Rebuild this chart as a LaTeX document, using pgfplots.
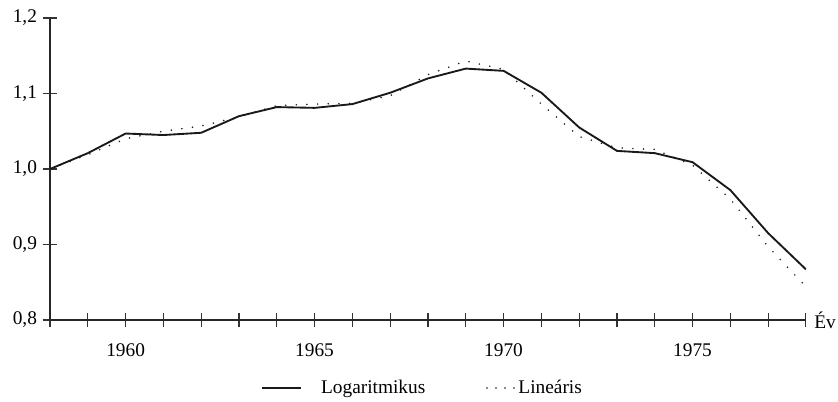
\documentclass[border=0pt]{standalone}
\usepackage{fontspec}
\setmainfont{Liberation Serif}
\usepackage{pgfplots}
\pgfplotsset{compat=1.18}
\pgfplotstableread{
year log lin
1958 1.000 1.000
1959 1.021 1.019
1960 1.047 1.040
1961 1.045 1.050
1962 1.048 1.057
1963 1.070 1.069
1964 1.082 1.084
1965 1.081 1.086
1966 1.086 1.087
1967 1.101 1.097
1968 1.120 1.125
1969 1.133 1.143
1970 1.130 1.132
1971 1.101 1.086
1972 1.055 1.043
1973 1.024 1.028
1974 1.021 1.026
1975 1.009 1.005
1976 0.972 0.960
1977 0.915 0.897
1978 0.867 0.844
}\datatable
\pgfplotsset{
  solidleg/.style={legend image code/.code={\draw[##1] (0pt,0pt) -- (29.25pt,0pt); \path (41.25pt,0pt);}},
  dotleg/.style={legend image code/.code={\path (0pt,0pt); \draw[##1, dash pattern=on 0pt off 6.75pt] (20pt,0pt) -- (40.5pt,0pt);}},
}
\newcommand\lblfont{\fontsize{14.5}{17}\selectfont}
\begin{document}
\begin{tikzpicture}
\begin{axis}[
  scale only axis, width=567pt, height=226.5pt,
  xmin=1958, xmax=1978, ymin=0.8, ymax=1.2,
  axis lines=left,
  axis line style={line width=0.9pt, -, black!85},
  xtick={1958,1959,...,1978},
  xticklabels={,,1960,,,,,1965,,,,,1970,,,,,1975,,,},
  ytick={0.8,0.9,1.0,1.1,1.2},
  yticklabels={{0,8},{0,9},{1,0},{1,1},{1,2}},
  tick align=center,
  major tick length=11pt,
  every tick/.style={line width=0.85pt, black!80},
  tick label style={font=\lblfont},
  x tick label style={yshift=-9pt},
  y tick label style={xshift=-0.75pt},
  xlabel={Év},
  xlabel style={at={(rel axis cs:1,0)}, anchor=west, xshift=6pt, inner sep=0pt, font=\lblfont},
  legend style={at={(rel axis cs:0.493,-0.225)}, anchor=center, draw=none,
    legend columns=2, font=\lblfont,
    /tikz/every even column/.append style={column sep=23.6pt},
    /tikz/every odd column/.append style={column sep=0.5pt}},
  legend cell align=left,
]
\addplot[line width=1.4pt, black!90, solidleg] table[x=year, y=log] {\datatable};
\addlegendentry{Logaritmikus}
\addplot[line width=1.3pt, black!90, line cap=round, dash pattern=on 0pt off 8pt, dotleg] table[x=year, y=lin] {\datatable};
\addlegendentry{Lineáris}
\end{axis}
\pgfresetboundingbox
\path (-37.5pt,-60.75pt) rectangle (591pt,240pt);
\end{tikzpicture}
\end{document}
